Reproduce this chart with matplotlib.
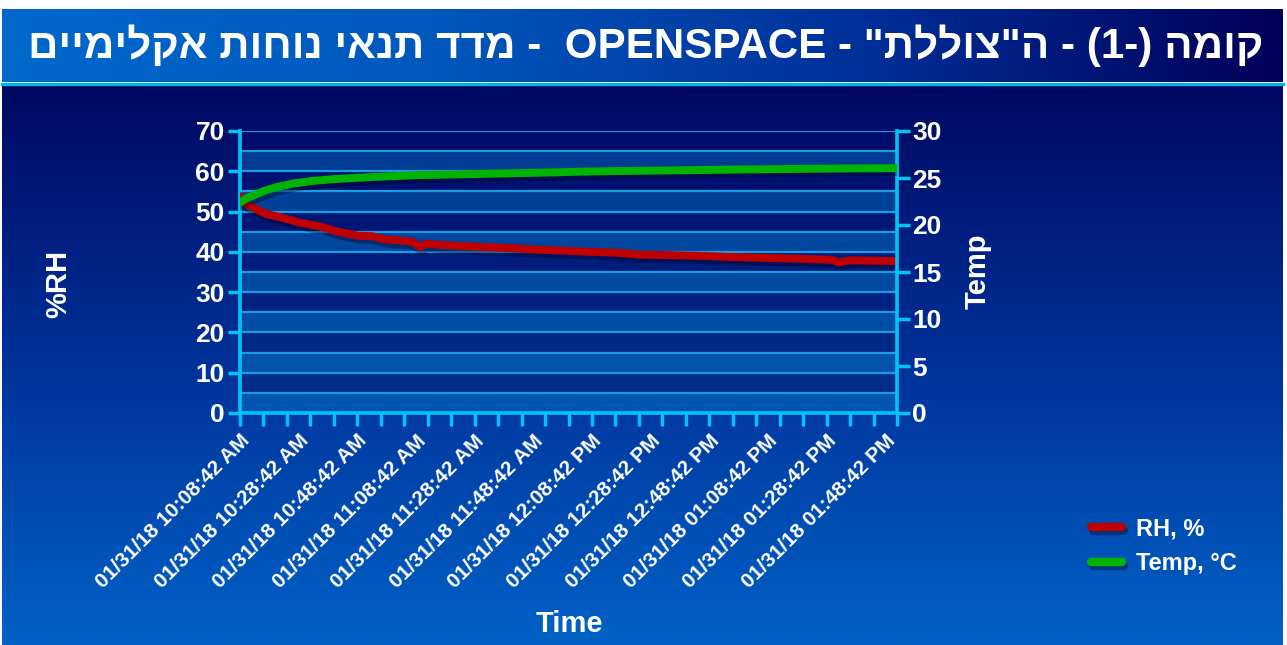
import re
import numpy as np
import matplotlib
matplotlib.use("Agg")
import matplotlib.pyplot as plt
import matplotlib.patheffects as pe
from matplotlib.colors import LinearSegmentedColormap, to_rgb
from matplotlib.lines import Line2D

W, H = 1287, 645

# minutes after 10:08:42 AM
rh_minutes = [0, 1.7, 8.5, 13.6, 20.8, 27.3, 32.4, 40.2, 45, 49.4, 54.6, 58.7,
              61.4, 63.4, 68.9, 79.5, 90.4, 102.3, 110.8, 119.4, 127.9, 136.4,
              146.6, 156.9, 167.8, 179, 191, 201.9, 204, 208, 216.5, 224]
rh_values = [53.8, 52.0, 49.5, 48.6, 47.2, 46.3, 45.2, 44.0, 43.9, 43.1, 42.8, 42.5,
             41.2, 42.0, 41.7, 41.3, 41.0, 40.5, 40.3, 40.0, 39.8, 39.3,
             39.2, 39.0, 38.7, 38.5, 38.3, 38.0, 37.4, 37.9, 37.8, 37.7]

temp_minutes = [0, 2, 5, 8, 12, 18, 25, 33, 45, 60, 77, 100, 120, 145, 170, 200, 224]
temp_values = [22.4, 22.8, 23.2, 23.6, 24.0, 24.4, 24.7, 24.9, 25.1, 25.3, 25.4,
               25.55, 25.7, 25.8, 25.9, 26.0, 26.05]

label_minutes = [0, 20, 40, 60, 80, 100, 120, 140, 160, 180, 200, 220]
time_labels = ["01/31/18 10:08:42 AM", "01/31/18 10:28:42 AM", "01/31/18 10:48:42 AM",
               "01/31/18 11:08:42 AM", "01/31/18 11:28:42 AM", "01/31/18 11:48:42 AM",
               "01/31/18 12:08:42 PM", "01/31/18 12:28:42 PM", "01/31/18 12:48:42 PM",
               "01/31/18 01:08:42 PM", "01/31/18 01:28:42 PM", "01/31/18 01:48:42 PM"]
rh_ticks = [0, 10, 20, 30, 40, 50, 60, 70]
temp_ticks = [0, 5, 10, 15, 20, 25, 30]

title = 'קומה (-1) - ה"צוללת" - OPENSPACE  - מדד תנאי נוחות אקלימיים'

FONT = "Liberation Sans"
CYAN = "#00c4f4"


def visual_rtl(s):
    # matplotlib has no bidi, so lay the RTL title out in visual order
    parts = re.findall(r"[A-Za-z0-9]+|.", s)[::-1]
    mirror = {"(": ")", ")": "("}
    return "".join(mirror.get(p, p) for p in parts)


def box(x0, y0, x1, y1):
    return [x0 / W, 1 - y1 / H, (x1 - x0) / W, (y1 - y0) / H]


def mix(c1, c2, t):
    a, b = np.array(to_rgb(c1)), np.array(to_rgb(c2))
    return tuple(a + (b - a) * t)


fig = plt.figure(figsize=(W / 100, H / 100), dpi=100, facecolor="white")

# body background, vertical gradient
body = fig.add_axes(box(2, 84, 1283, 645))
vgrad = LinearSegmentedColormap.from_list("v", ["#000862", "#00329a", "#0062c6"])
body.imshow(np.linspace(0, 1, 256).reshape(-1, 1), aspect="auto", cmap=vgrad,
            extent=[0, 1, 0, 1], origin="upper")
body.axis("off")

# title banner, horizontal gradient
banner = fig.add_axes(box(2, 9, 1283, 82))
hgrad = LinearSegmentedColormap.from_list("h", ["#0068cc", "#0058bc", "#00309a", "#000058"])
banner.imshow(np.linspace(0, 1, 256).reshape(1, -1), aspect="auto", cmap=hgrad,
              extent=[0, 1, 0, 1])
banner.axis("off")
fig.add_artist(Line2D([2 / W, 1283 / W], [1 - 83.5 / H] * 2, color="#00b4ec", lw=2.4))

fig.text(646 / W, 1 - 46 / H, visual_rtl(title), color="white", fontsize=30.3,
         fontweight="bold", family=FONT, ha="center", va="center")

# main plot
ax = fig.add_axes(box(240, 131, 897, 413))
ax.set_facecolor("none")
ax.set_xlim(0, 224)
ax.set_ylim(0, 70)
for i in range(14):
    t = i / 13
    if i % 2 == 0:
        c = mix("#0056b0", "#003a92", t)
    else:
        c = mix("#00308c", "#000c6c", t)
    ax.axhspan(5 * i, 5 * i + 5, color=c, lw=0, zorder=0)

ax.set_yticks(rh_ticks)
ax.set_yticks(np.arange(0, 71, 5), minor=True)
ax.yaxis.grid(True, which="both", color="#1c9ce0", lw=1.6, zorder=1)
ax.set_axisbelow(True)

ax.xaxis.remove_overlapping_locs = False
ax.set_xticks(np.arange(0, 225, 8))
ax.set_xticklabels([])
ax.set_xticks(label_minutes, minor=True)
ax.set_xticklabels(time_labels, minor=True, rotation=45, ha="right",
                   rotation_mode="anchor", color="white", fontsize=15,
                   fontweight="bold", family=FONT)
ax.tick_params(axis="x", which="minor", length=0, pad=13)
ax.tick_params(axis="y", which="minor", length=0)
ax.tick_params(which="major", color=CYAN, width=2.5, length=9, pad=2,
               labelcolor="white", labelsize=19)
for lab in ax.get_yticklabels():
    lab.set_fontweight("bold")
    lab.set_family(FONT)

for side in ["top", "right"]:
    ax.spines[side].set_visible(False)
for side in ["left", "bottom"]:
    ax.spines[side].set_color(CYAN)
    ax.spines[side].set_linewidth(2.6)

shadow = [pe.SimpleLineShadow(offset=(1.5, -3), shadow_color="#000018", alpha=0.35),
          pe.Normal()]
ax.plot(rh_minutes, rh_values, color="#c00000", lw=5.7, solid_capstyle="round",
        path_effects=shadow, zorder=3)

ax2 = ax.twinx()
ax2.set_ylim(0, 30)
ax2.set_yticks(temp_ticks)
ax2.plot(temp_minutes, temp_values, color="#00b400", lw=5.7, solid_capstyle="round",
         path_effects=shadow, zorder=3)
for side in ["top", "left", "bottom"]:
    ax2.spines[side].set_visible(False)
ax2.spines["right"].set_color(CYAN)
ax2.spines["right"].set_linewidth(2.6)
ax2.tick_params(color=CYAN, width=2.5, length=9, pad=2, labelcolor="white",
                labelsize=19)
for lab in ax2.get_yticklabels():
    lab.set_fontweight("bold")
    lab.set_family(FONT)

lab_kw = dict(color="white", fontsize=21, fontweight="bold", family=FONT)
ax.set_ylabel("%RH", rotation=90, **lab_kw)
ax.yaxis.set_label_coords((72 - 240) / 657, (413 - 284) / 282)
ax2.set_ylabel("Temp", rotation=90, **lab_kw)
ax2.yaxis.set_label_coords((964 - 240) / 657, (413 - 271) / 282)
ax.set_xlabel("Time", **lab_kw)
ax.xaxis.set_label_coords((569 - 240) / 657, (413 - 610) / 282)

handles = [Line2D([], [], color="#c00000", lw=6, solid_capstyle="round",
                  path_effects=shadow),
           Line2D([], [], color="#00b400", lw=6, solid_capstyle="round",
                  path_effects=shadow)]
fig.legend(handles, ["RH, %", "Temp, °C"], loc="center left",
           bbox_to_anchor=(1070 / W, 1 - 546 / H), frameon=False,
           handlelength=1.3, handletextpad=0.6, labelspacing=0.5,
           prop={"family": FONT, "weight": "bold", "size": 17},
           labelcolor="white")

fig.savefig("out.png", dpi=100, facecolor="white")
